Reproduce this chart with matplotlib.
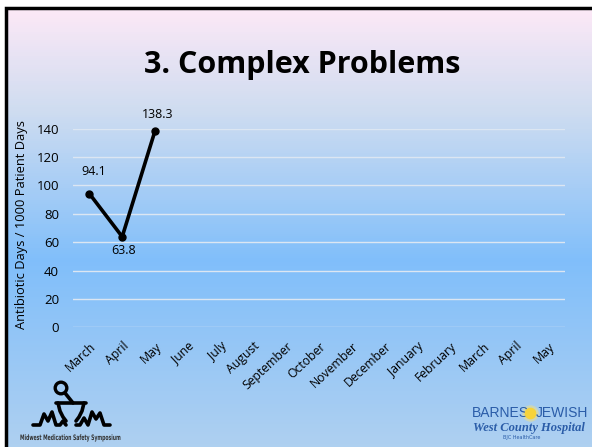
import numpy as np
import matplotlib.pyplot as plt
from matplotlib.colors import LinearSegmentedColormap
from matplotlib.textpath import TextPath
from matplotlib.patches import PathPatch
from matplotlib.font_manager import FontProperties
from matplotlib.transforms import Affine2D

# Chart data
months = ['March', 'April', 'May', 'June', 'July', 'August', 'September',
          'October', 'November', 'December', 'January', 'February',
          'March', 'April', 'May']
values = [94.1, 63.8, 138.3]
y_ticks = [0, 20, 40, 60, 80, 100, 120, 140]

W, H = 592, 447
fig = plt.figure(figsize=(W / 100, H / 100), dpi=100)

# Slide background gradient, drawn as thin horizontal strips
bg = fig.add_axes([0, 0, 1, 1])
stops = [(0.0, (252, 232, 246)), (0.23, (206, 220, 240)),
         (0.57, (128, 190, 250)), (1.0, (175, 208, 240))]
cmap = LinearSegmentedColormap.from_list(
    'slide', [(p, tuple(c / 255 for c in col)) for p, col in stops])
edges = np.linspace(8, H + 5, 221)
for i in range(len(edges) - 1):
    bg.fill_between([6, W + 20], edges[i], edges[i + 1] + 0.5,
                    color=cmap(i / (len(edges) - 2)), lw=0)
bg.set_xlim(0, W)
bg.set_ylim(H, 0)
bg.axis('off')
# border (left and top only)
bg.plot([6, 6, W + 20], [H + 5, 8, 8], color='black', lw=2.5,
        solid_joinstyle='miter')

# Title
bg.text(302, 73, '3. Complex Problems', ha='center', va='baseline',
        fontsize=22, fontweight='bold', family='Open Sans')

# Left logo (rough sketch of mortar, pestle and heartbeat)
k = dict(color='black', lw=2.6, solid_capstyle='round', solid_joinstyle='round')
bg.plot([33, 40, 44, 48, 52, 56, 60, 63, 66],
        [425, 425, 414, 421, 412, 425, 425, 421, 425], **k)
bg.plot([56, 86], [403, 403], **k)
bg.plot([58, 60, 63, 66], [403, 411, 417, 421], **k)
bg.plot([84, 82, 79, 76], [403, 411, 417, 421], **k)
bg.plot([76, 80, 84, 88, 92, 96, 100, 104, 110],
        [425, 425, 418, 425, 412, 419, 413, 425, 425], **k)
bg.plot([65, 73], [393, 403], **k)
bg.scatter([61], [388], s=70, facecolor='none', edgecolor='black', lw=2.4)

tp = TextPath((0, 0), 'Midwest Medication Safety Symposium', size=10,
              prop=FontProperties(family='DejaVu Sans', weight='bold'))
ext = tp.get_extents()
sx = 100 / ext.width
sy = 0.75
bg.add_patch(PathPatch(tp, color='#333333', lw=0,
                       transform=Affine2D().scale(sx, -sy).translate(20, 440)
                       + bg.transData))

# Right logo
blue = '#2a5ca8'
bg.text(472, 413, 'BARNES', ha='left', va='center',
        fontsize=10, family='Liberation Sans', color=blue)
bg.text(588, 413, 'JEWISH', ha='right', va='center',
        fontsize=10, family='Liberation Sans', color=blue)
bg.scatter([530], [413], s=140, color='#f7e07a', alpha=0.5, zorder=2, lw=0)
bg.scatter([530], [413], s=55, color='#f7d33a', zorder=3)
bg.text(529, 428, 'West County Hospital', ha='center', va='center',
        fontsize=9, family='Liberation Serif', style='italic',
        fontweight='bold', color=blue)
bg.text(522, 438, 'BJC HealthCare', ha='center', va='center',
        fontsize=3.5, family='DejaVu Sans', color=blue)

# Chart axes: x 73..565 px, y 0 at 327, 140 at 128.5
ax = fig.add_axes([73 / W, 1 - 327.3 / H, (565 - 73) / W, (327.3 - 128.5) / H])
ax.patch.set_alpha(0)
x = np.arange(len(months))
ax.set_xlim(-0.5, len(months) - 0.5)
ax.set_ylim(0, 140)
ax.set_yticks(y_ticks)
ax.grid(axis='y', color='#dce6f2', lw=1)
ax.set_axisbelow(True)
for s in ax.spines.values():
    s.set_visible(False)
ax.tick_params(length=0)
ax.tick_params(axis='y', labelsize=9.5, pad=10)
ax.set_xticks(x)
ax.set_xticklabels(months, rotation=43, ha='right', rotation_mode='anchor',
                   fontsize=8.8, family='Open Sans')
ax.tick_params(axis='x', pad=9)
for lab in ax.get_yticklabels():
    lab.set_family('Open Sans')

ax.plot(x[:len(values)], values, color='black', lw=2.6, marker='o',
        markersize=5, clip_on=False, zorder=5)
offsets = [(3, 16), (1, -10), (2, 12)]
for xi, v, off in zip(x, values, offsets):
    ax.annotate(f'{v}', (xi, v), xytext=off, textcoords='offset points',
                ha='center', va='center', fontsize=9, family='Open Sans')

ax.set_ylabel('Antibiotic Days / 1000 Patient Days', fontsize=9.3,
              family='Open Sans')
ax.yaxis.set_label_coords(-0.091, 0.515)

fig.savefig('out.png', dpi=100)
